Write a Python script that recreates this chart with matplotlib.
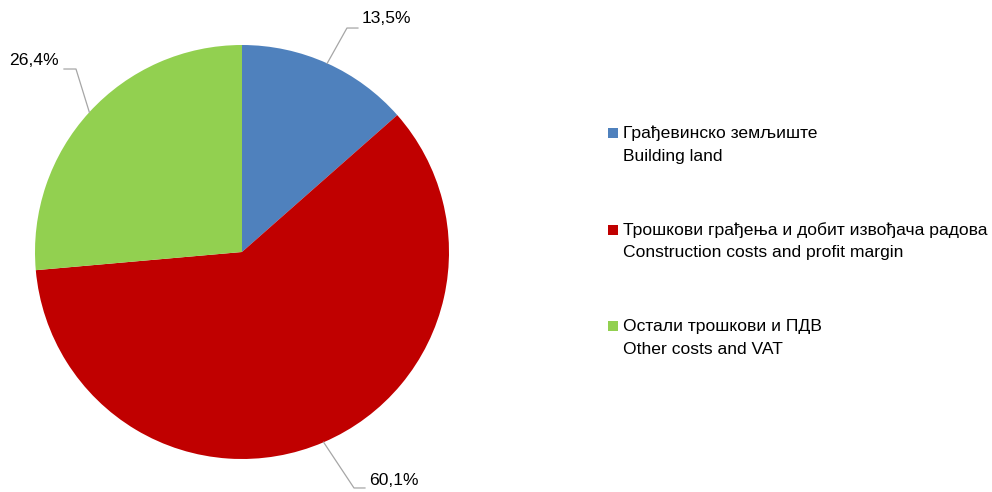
import numpy as np
import matplotlib
matplotlib.use("Agg")
import matplotlib.pyplot as plt
from matplotlib.patches import Rectangle
from matplotlib import font_manager

# data
labels_sr = ["Грађевинско земљиште",
             "Трошкови грађења и добит извођача радова",
             "Остали трошкови и ПДВ"]
labels_en = ["Building land",
             "Construction costs and profit margin",
             "Other costs and VAT"]
shares = [13.5, 60.1, 26.4]
colors = ["#4F81BD", "#C00000", "#92D050"]

names = {f.name for f in font_manager.fontManager.ttflist}
family = "Liberation Sans Narrow" if "Liberation Sans Narrow" in names else "Liberation Sans"
plt.rcParams["font.family"] = [family, "DejaVu Sans"]
fs = 12.6 if family == "Liberation Sans" else 15

W, H = 992, 492
fig = plt.figure(figsize=(W / 100, H / 100), dpi=100)

# pie centre and radius in pixels
cx, cy, r = 242, 252, 207
ax = fig.add_axes([(cx - r) / W, (H - cy - r) / H, 2 * r / W, 2 * r / H])
wedges, _ = ax.pie(shares, colors=colors, startangle=90, counterclock=False,
                   radius=1.0, wedgeprops=dict(linewidth=0))
ax.set_xlim(-1, 1)
ax.set_ylim(-1, 1)
ax.set_aspect("equal")
ax.axis("off")

# label layout: (elbow, line end, text pos, ha) in data units (1 = radius)
layout = [
    ((0.507, 1.082), (0.560, 1.082), (0.578, 1.13), "left"),
    ((0.541, -1.140), (0.594, -1.140), (0.612, -1.102), "left"),
    ((-0.802, 0.884), (-0.860, 0.884), (-0.885, 0.925), "right"),
]
for w, s, (elb, end, tpos, ha) in zip(wedges, shares, layout):
    mid = np.deg2rad((w.theta1 + w.theta2) / 2)
    ex, ey = np.cos(mid), np.sin(mid)
    ax.plot([ex, elb[0], end[0]], [ey, elb[1], end[1]], color="#A6A6A6",
            lw=0.9, clip_on=False)
    ax.text(tpos[0], tpos[1], f"{s:.1f}%".replace(".", ","), ha=ha, va="center",
            fontsize=fs, clip_on=False)

# legend drawn by hand
leg_x = 623
sq = 10
row_y = [133, 230, 326]
for lab_sr, lab_en, col, y in zip(labels_sr, labels_en, colors, row_y):
    fig.patches.append(Rectangle(((leg_x - 15) / W, (H - y - sq / 2) / H), sq / W, sq / H,
                                 transform=fig.transFigure, facecolor=col,
                                 edgecolor="none"))
    fig.text(leg_x / W, (H - y) / H, lab_sr, ha="left", va="center", fontsize=fs)
    fig.text(leg_x / W, (H - y - 23) / H, lab_en, ha="left", va="center", fontsize=fs)

fig.savefig("out.png", dpi=100)
